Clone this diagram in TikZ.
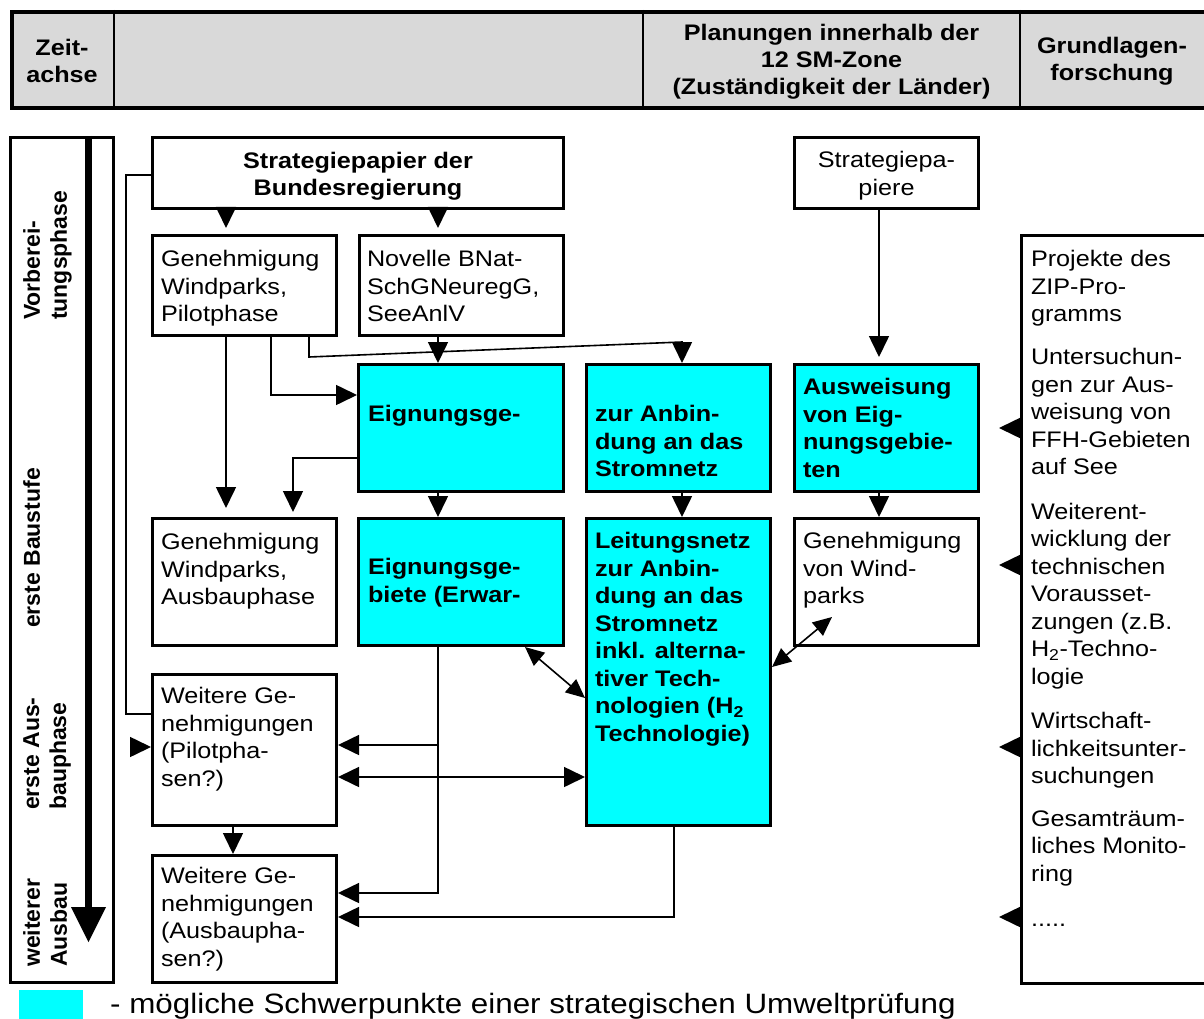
\documentclass[tikz,border=0pt]{standalone}
\usepackage{fontspec}
\setmainfont{Liberation Sans}[FakeStretch=1.12]
\newfontfamily\rotfont{Liberation Sans}
\usetikzlibrary{arrows.meta,calc}
\definecolor{cy}{RGB}{0,255,255}
\definecolor{hdr}{RGB}{217,217,217}
\begin{document}
\begin{tikzpicture}[x=1pt,y=-1pt,
  box/.style={draw, line width=3pt, rectangle, inner sep=0pt},
  hl/.style={box, fill=cy},
  txt/.style={inner sep=0pt, outer sep=0pt, align=left, anchor=north west, font=\fontsize{22.5}{27.5}\selectfont},
  btxt/.style={txt, font=\fontsize{22.5}{27.5}\selectfont\bfseries},
  htxt/.style={inner sep=0pt, align=center, font=\fontsize{22.5}{27}\selectfont\bfseries},
  rtxt/.style={inner sep=0pt, rotate=90, anchor=north west, align=left, font=\rotfont\fontsize{23}{27}\selectfont\bfseries},
  conn/.style={line width=1.6pt},
  arr/.style={conn, -{Triangle[width=20pt,length=21pt]}},
  darr/.style={conn, {Triangle[width=20pt,length=21pt]}-{Triangle[width=20pt,length=21pt]}},
  dgarr/.style={conn, {Triangle[width=17pt,length=19pt]}-{Triangle[width=17pt,length=19pt]}},
]
\useasboundingbox (0,0) rectangle (1204,1019);
\clip (0,0) rectangle (1204,1019);

% header
\node[box, fill=hdr, line width=4pt, minimum width=1250pt, minimum height=96pt] (head) at (637,60) {};
\coordinate (d1) at (114,0);
\coordinate (d2) at (643,0);
\coordinate (d3) at (1020,0);
\draw[line width=2.5pt] (head.north -| d1) -- (head.south -| d1);
\draw[line width=2.5pt] (head.north -| d2) -- (head.south -| d2);
\draw[line width=2.5pt] (head.north -| d3) -- (head.south -| d3);
\node[htxt] (hz) at (62,61) {Zeit-\\achse};
\node[htxt] (hp) at (831.5,62) {Planungen innerhalb der\\12 SM-Zone\\(Zuständigkeit der Länder)};
\node[htxt] (hg) at (1112,61) {Grundlagen-\\forschung};

% time axis
\node[box, minimum width=103pt, minimum height=845pt] (axis) at (62,560) {};
\coordinate (xk) at (88.5,0);
\coordinate (yk) at (0,909);
\draw[line width=7pt] (axis.north -| xk) -- (xk |- yk);
\fill (71,907) -- (106,907) -- (88.5,942) -- cycle;
\node[rtxt] (r1) at (23,320) {Vorberei-\\tungsphase};
\node[rtxt] (r2) at (23,628) {erste Baustufe};
\node[rtxt] (r3) at (23,810) {erste Aus-\\bauphase};
\node[rtxt] (r4) at (23,967) {weiterer\\Ausbau};

% boxes
\node[box, minimum width=411pt, minimum height=71pt] (strat) at (358,173) {};
\node[box, minimum width=184pt, minimum height=100pt] (genpilot) at (244.5,285.5) {};
\node[box, minimum width=204pt, minimum height=100pt] (novelle) at (461.5,285.5) {};
\node[box, minimum width=184pt, minimum height=71pt] (stratp) at (886.5,173) {};
\node[hl, minimum width=205pt, minimum height=127pt] (eig1) at (461,428) {};
\node[hl, minimum width=184pt, minimum height=127pt] (anb1) at (678.5,428) {};
\node[hl, minimum width=184pt, minimum height=127pt] (ausw) at (886.5,428) {};
\node[box, minimum width=184pt, minimum height=127pt] (genausbau) at (244.5,582) {};
\node[hl, minimum width=205pt, minimum height=127pt] (eig2) at (461,582) {};
\node[hl, minimum width=184pt, minimum height=307pt] (leit) at (678.5,672) {};
\node[box, minimum width=184pt, minimum height=127pt] (genwind) at (886.5,582) {};
\node[box, minimum width=184pt, minimum height=151pt] (weipilot) at (244.5,750) {};
\node[box, minimum width=184pt, minimum height=127pt] (weiausbau) at (244.5,919) {};
\node[box, minimum width=277pt, minimum height=748pt] (grund) at (1160,609.5) {};

% texts
\node[htxt, anchor=north] (tstrat) at (358,151.5) {Strategiepapier der\\Bundesregierung};
\node[txt] (tgenpilot) at (161,250.5) {Genehmigung\\Windparks,\\Pilotphase};
\node[txt] (tnovelle) at (367,250.5) {Novelle BNat-\\SchGNeuregG,\\SeeAnlV};
\node[txt, align=center, anchor=north] (tstratp) at (886.5,151.5) {Strategiepa-\\piere};
\node[btxt] (teig1) at (368,405.5) {Eignungsge-};
\node[btxt] (tanb1) at (595,405.5) {zur Anbin-\\dung an das\\Stromnetz};
\node[btxt] (tausw) at (803,378.5) {Ausweisung\\von Eig-\\nungsgebie-\\ten};
\node[txt] (tgenausbau) at (161,533.5) {Genehmigung\\Windparks,\\Ausbauphase};
\node[btxt] (teig2) at (368,558.5) {Eignungsge-\\biete (Erwar-};
\node[btxt] (tleit) at (595,532.5) {Leitungsnetz\\zur Anbin-\\dung an das\\Stromnetz\\inkl. alterna-\\tiver Tech-\\nologien (H\textsubscript{2}\\Technologie)};
\node[txt] (tgenwind) at (803,532.5) {Genehmigung\\von Wind-\\parks};
\node[txt] (tweipilot) at (161,687.5) {Weitere Ge-\\nehmigungen\\(Pilotpha-\\sen?)};
\node[txt] (tweiausbau) at (161,867.5) {Weitere Ge-\\nehmigungen\\(Ausbaupha-\\sen?)};
\node[txt] (tg1) at (1031,250.5) {Projekte des\\ZIP-Pro-\\gramms};
\node[txt] (tg2) at (1031,348.5) {Untersuchun-\\gen zur Aus-\\weisung von\\FFH-Gebieten\\auf See};
\node[txt] (tg3) at (1031,503) {Weiterent-\\wicklung der\\technischen\\Vorausset-\\zungen (z.B.\\H\textsubscript{2}-Techno-\\logie};
\node[txt] (tg4) at (1031,712.5) {Wirtschaft-\\lichkeitsunter-\\suchungen};
\node[txt] (tg5) at (1031,810.5) {Gesamträum-\\liches Monito-\\ring};
\node[txt, anchor=base west] (tg6) at (1031,926) {.....};

% legend
\node[fill=cy, minimum width=64pt, minimum height=40pt, inner sep=0pt, anchor=north west] (leg) at (19,990) {};
\node[anchor=base west, inner sep=0pt, font=\fontsize{28}{30}\selectfont] (legt) at (110,1013) {- mögliche Schwerpunkte einer strategischen Umweltprüfung};

% coordinates
\coordinate (xa) at (226,0);
\coordinate (xb) at (271,0);
\coordinate (xc) at (309,0);
\coordinate (xd) at (438,0);
\coordinate (xe) at (682,0);
\coordinate (xf) at (879,0);
\coordinate (xg) at (293,0);
\coordinate (xh) at (233,0);
\coordinate (xi) at (674,0);
\coordinate (xj) at (126,0);
\coordinate (y175) at (0,175);
\coordinate (y395) at (0,395);
\coordinate (y357) at (0,357);
\coordinate (y342) at (0,342);
\coordinate (y458) at (0,458);
\coordinate (y745) at (0,745);
\coordinate (y893) at (0,893);
\coordinate (y777) at (0,777);
\coordinate (y917) at (0,917);
\coordinate (y714) at (0,714);
\coordinate (y747) at (0,747);
\coordinate (y698) at (0,698);
\coordinate (y667) at (0,667);
\coordinate (gw) at (832,617);
\coordinate (tl) at (130,747);
\coordinate (g1) at (999,428);
\coordinate (g2) at (999,565);
\coordinate (g3) at (999,747);
\coordinate (g4) at (999,917);

% connectors
\draw[arr, shorten >=6pt] (strat.south -| xa) -- (genpilot.north -| xa);
\draw[arr, shorten >=6pt] (strat.south -| xd) -- (novelle.north -| xd);
\draw[arr, shorten >=6pt] (stratp.south -| xf) -- (ausw.north -| xf);
\draw[arr] (novelle.south -| xd) -- (eig1.north -| xd);
\draw[arr, shorten >=9pt] (genpilot.south -| xa) -- (genausbau.north -| xa);
\draw[arr] (genpilot.south -| xb) |- (eig1.west |- y395);
\draw[arr] (genpilot.south -| xc) -- (xc |- y357) -- (xe |- y342) -- (anb1.north -| xe);
\draw[arr, shorten >=5pt] (eig1.west |- y458) -| (genausbau.north -| xg);
\draw[arr] (eig1.south -| xd) -- (eig2.north -| xd);
\draw[arr] (anb1.south -| xe) -- (leit.north -| xe);
\draw[arr] (ausw.south -| xf) -- (genwind.north -| xf);
\draw[dgarr] ([xshift=-40pt]eig2.south east) -- (leit.west |- y698);
\draw[dgarr] (leit.east |- y667) -- (gw);
\draw[arr] (eig2.south -| xd) |- (weiausbau.east |- y893);
\draw[arr] (xd |- y745) -- (weipilot.east |- y745);
\draw[darr] (weipilot.east |- y777) -- (leit.west |- y777);
\draw[arr] (leit.south -| xi) |- (weiausbau.east |- y917);
\draw[arr] (weipilot.south -| xh) -- (weiausbau.north -| xh);
\draw[conn] (strat.west |- y175) -| (xj |- y714) -- (weipilot.west |- y714);
\draw[arr] (tl) -- (weipilot.west |- y747);
\draw[arr] (grund.west |- g1) -- (g1);
\draw[arr] (grund.west |- g2) -- (g2);
\draw[arr] (grund.west |- g3) -- (g3);
\draw[arr] (grund.west |- g4) -- (g4);
\end{tikzpicture}
\end{document}
